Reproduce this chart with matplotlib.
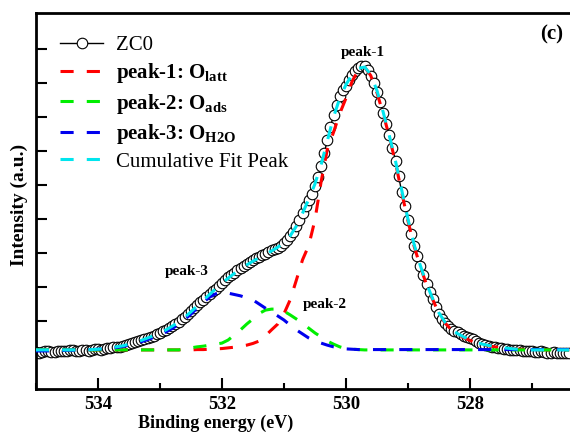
import matplotlib
matplotlib.use("Agg")
import matplotlib.pyplot as plt
from matplotlib.ticker import MultipleLocator
import numpy as np

plt.rcParams['font.family'] = ['Liberation Serif', 'DejaVu Serif']
plt.rcParams['mathtext.fontset'] = 'custom'
plt.rcParams['mathtext.rm'] = 'Liberation Serif'
plt.rcParams['mathtext.bf'] = 'Liberation Serif:bold'

# measured spectrum: 535.0 -> 526.4 eV, 0.05 eV step
energy = np.round(np.linspace(535.0, 526.4, 173), 2)
zc0 = [1.09, 1.07, 1.09, 1.11, 1.12, 1.10, 1.09, 1.12, 1.12, 1.11,
       1.12, 1.14, 1.15, 1.13, 1.12, 1.14, 1.15, 1.13, 1.15, 1.17,
       1.18, 1.16, 1.18, 1.20, 1.21, 1.23, 1.24, 1.24, 1.26, 1.29,
       1.32, 1.35, 1.38, 1.41, 1.44, 1.47, 1.50, 1.53, 1.56, 1.61,
       1.65, 1.70, 1.74, 1.80, 1.85, 1.91, 1.97, 2.05, 2.12, 2.20,
       2.29, 2.38, 2.47, 2.55, 2.62, 2.71, 2.79, 2.87, 2.94, 3.03,
       3.12, 3.21, 3.29, 3.36, 3.41, 3.49, 3.56, 3.62, 3.68, 3.74,
       3.79, 3.84, 3.88, 3.93, 3.97, 4.04, 4.09, 4.11, 4.15, 4.21,
       4.29, 4.39, 4.50, 4.63, 4.79, 4.98, 5.18, 5.37, 5.56, 5.75,
       5.97, 6.25, 6.56, 6.94, 7.32, 7.70, 8.06, 8.36, 8.62, 8.79,
       8.91, 9.08, 9.24, 9.36, 9.44, 9.50, 9.50, 9.38, 9.21, 9.00,
       8.74, 8.45, 8.12, 7.80, 7.47, 7.10, 6.71, 6.26, 5.79, 5.37,
       4.97, 4.57, 4.21, 3.90, 3.62, 3.34, 3.09, 2.86, 2.65, 2.42,
       2.21, 2.06, 1.94, 1.84, 1.76, 1.72, 1.68, 1.61, 1.56, 1.53,
       1.50, 1.46, 1.41, 1.36, 1.32, 1.29, 1.26, 1.25, 1.24, 1.22,
       1.21, 1.19, 1.18, 1.16, 1.15, 1.16, 1.15, 1.13, 1.12, 1.13,
       1.12, 1.10, 1.09, 1.11, 1.09, 1.07, 1.06, 1.08, 1.06, 1.05,
       1.06, 1.07, 1.06]

# fitted curves: same range, 0.1 eV step
energy_fit = np.round(np.linspace(535.0, 526.4, 87), 2)

peak1 = [1.15] * 25 + [
       1.15, 1.16, 1.16, 1.17, 1.18, 1.19, 1.21, 1.23, 1.26, 1.29,
       1.34, 1.41, 1.56, 1.74, 1.91, 2.21, 2.62, 3.20, 3.80, 4.22,
       4.97, 6.10, 7.05, 7.55, 8.10, 8.55, 9.05, 9.38, 9.47, 9.22,
       8.72, 8.10, 7.42, 6.65, 5.78, 4.95, 4.20, 3.60, 3.07, 2.63,
       2.22, 1.94, 1.74, 1.61, 1.51, 1.43, 1.36, 1.31, 1.27, 1.24,
       1.21, 1.19, 1.18, 1.17, 1.16] + [1.15] * 7

peak2 = [1.15] * 24 + [
       1.18, 1.21, 1.24, 1.26, 1.29, 1.32, 1.35, 1.44, 1.59, 1.74,
       1.91, 2.06, 2.22, 2.32, 2.35, 2.35, 2.29, 2.18, 2.06, 1.94,
       1.79, 1.65, 1.53, 1.41, 1.32, 1.24, 1.19, 1.17, 1.16] + [1.15] * 34

peak3 = [1.12, 1.12, 1.12, 1.13, 1.13, 1.14, 1.14, 1.15, 1.15, 1.16,
       1.17, 1.18, 1.20, 1.22, 1.25, 1.29, 1.34, 1.39, 1.45, 1.52,
       1.60, 1.68, 1.78, 1.90, 2.05, 2.20, 2.38, 2.55, 2.70, 2.80,
       2.85, 2.82, 2.78, 2.74, 2.68, 2.62, 2.50, 2.38, 2.26, 2.15,
       2.03, 1.88, 1.74, 1.62, 1.50, 1.41, 1.35, 1.29, 1.24, 1.21,
       1.18, 1.17, 1.16] + [1.16] * 34

cumfit = [1.15] * 9 + [
       1.16, 1.17, 1.19, 1.21, 1.24, 1.27, 1.32, 1.37, 1.43, 1.50,
       1.57, 1.65, 1.74, 1.85, 1.97, 2.11, 2.27, 2.44, 2.61, 2.78,
       2.95, 3.11, 3.26, 3.40, 3.53, 3.65, 3.76, 3.86, 3.96, 4.06,
       4.17, 4.31, 4.50, 4.79, 5.17, 5.58, 6.03, 6.60, 7.30, 8.00,
       8.55, 8.95, 9.25, 9.43, 9.47, 9.25, 8.78, 8.15, 7.45, 6.70,
       5.85, 5.00, 4.25, 3.63, 3.10, 2.65, 2.24, 1.96, 1.76, 1.63,
       1.53, 1.45, 1.38, 1.32, 1.28, 1.25, 1.22, 1.20, 1.18, 1.17,
       1.16] + [1.15] * 7

xticks_major = [534, 532, 530, 528]
xticks_minor = [535, 533, 531, 529, 527]

fig = plt.figure(figsize=(5.7, 4.33), dpi=100)
ax = fig.add_axes([0.063, 0.1016, 0.979, 0.8684])

dash = (4.3, 4.3)
ax.plot(energy, zc0, '-', color='black', lw=1, marker='o', ms=7.6,
        mfc='white', mec='black', mew=0.8, label='ZC0', zorder=2)
ax.plot(energy_fit, peak1, color='#ff0000', lw=2.2, dashes=dash,
        label=r'peak-1: O$_{\mathbf{latt}}$', zorder=3)
ax.plot(energy_fit, peak2, color='#00ee00', lw=2.2, dashes=dash,
        label=r'peak-2: O$_{\mathbf{ads}}$', zorder=3)
ax.plot(energy_fit, peak3, color='#0000ee', lw=2.2, dashes=dash,
        label=r'peak-3: O$_{\mathbf{H2O}}$', zorder=3)
ax.plot(energy_fit, cumfit, color='#00e5ee', lw=2.2, dashes=dash,
        label='Cumulative Fit Peak', zorder=4)

ax.set_xlim(535.0, 526.0)
ax.set_ylim(0, 11.06)
ax.set_xticks(xticks_major)
ax.set_xticks(xticks_minor, minor=True)
ax.set_yticks(np.arange(1, 11))
ax.set_yticklabels([])
ax.tick_params(axis='both', which='major', direction='in', length=8, width=1.5)
ax.tick_params(axis='x', which='minor', direction='in', length=4, width=1.5)
ax.tick_params(axis='x', labelsize=13.5, pad=5)
for lab in ax.get_xticklabels():
    lab.set_fontweight('bold')
for s in ax.spines.values():
    s.set_linewidth(2)

ax.set_xlabel('Binding energy (eV)', fontsize=13, fontweight='bold', va='bottom')
ax.xaxis.set_label_coords((216 - 36) / 558, -0.115)
ax.set_ylabel('Intensity (a.u.)', fontsize=14, fontweight='bold')
ax.yaxis.set_label_coords(-0.014, 0.49)

leg = ax.legend(loc='upper left', bbox_to_anchor=(0.009, 0.99), frameon=False,
                fontsize=15, handlelength=2.1, handletextpad=0.6,
                labelspacing=0.3, numpoints=1)
for t in leg.get_texts()[1:4]:
    t.set_fontweight('bold')

ax.text(529.73, 9.9, 'peak-1', fontsize=11, fontweight='bold', ha='center', va='center')
ax.text(532.56, 3.47, 'peak-3', fontsize=11, fontweight='bold', ha='center', va='center')
ax.text(530.34, 2.5, 'peak-2', fontsize=11, fontweight='bold', ha='center', va='center')
ax.text(0.924, 0.944, '(c)', transform=ax.transAxes, fontsize=15,
        fontweight='bold', ha='center', va='center')

fig.savefig('out.png', dpi=100)
